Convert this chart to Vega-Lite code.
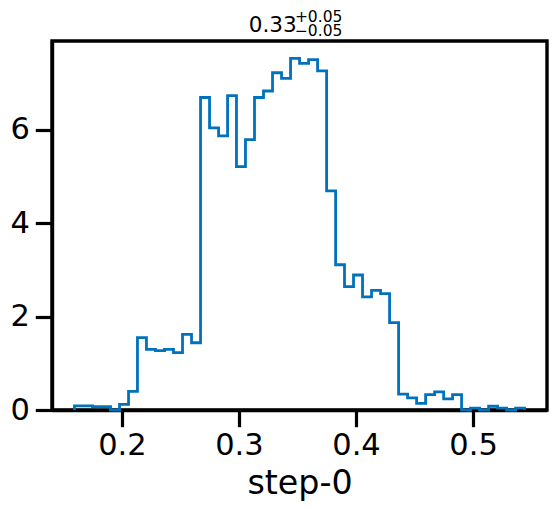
{
  "$schema": "https://vega.github.io/schema/vega-lite/v6.json",
  "autosize": {"type": "none"},
  "width": 495,
  "height": 369,
  "padding": {"left": 52, "top": 41, "right": 9, "bottom": 99},
  "background": "white",
  "config": {
    "view": {"stroke": "black", "strokeWidth": 3.4},
    "axis": {
      "grid": false,
      "domainColor": "black",
      "domainWidth": 3.4,
      "tickColor": "black",
      "tickWidth": 3.2,
      "tickSize": 16.7,
      "labelColor": "black",
      "labelFont": "DejaVu Sans",
      "labelFontSize": 30.5,
      "titleColor": "black",
      "titleFont": "DejaVu Sans",
      "titleFontSize": 33.3,
      "titleFontWeight": "normal",
      "zindex": 1
    }
  },
  "layer": [
    {
      "data": {
        "values": [
          {"k": 0, "x": 0.1595, "h": 0},
          {"k": 1, "x": 0.1595, "h": 0.09},
          {"k": 2, "x": 0.1672, "h": 0.09},
          {"k": 3, "x": 0.1749, "h": 0.07},
          {"k": 4, "x": 0.1826, "h": 0.07},
          {"k": 5, "x": 0.1903, "h": 0},
          {"k": 6, "x": 0.1980, "h": 0.12},
          {"k": 7, "x": 0.2057, "h": 0.40},
          {"k": 8, "x": 0.2133, "h": 1.55},
          {"k": 9, "x": 0.2210, "h": 1.30},
          {"k": 10, "x": 0.2287, "h": 1.27},
          {"k": 11, "x": 0.2364, "h": 1.30},
          {"k": 12, "x": 0.2441, "h": 1.23},
          {"k": 13, "x": 0.2518, "h": 1.62},
          {"k": 14, "x": 0.2595, "h": 1.44},
          {"k": 15, "x": 0.2672, "h": 6.69},
          {"k": 16, "x": 0.2749, "h": 6.04},
          {"k": 17, "x": 0.2826, "h": 5.87},
          {"k": 18, "x": 0.2903, "h": 6.73},
          {"k": 19, "x": 0.2979, "h": 5.21},
          {"k": 20, "x": 0.3056, "h": 5.79},
          {"k": 21, "x": 0.3133, "h": 6.69},
          {"k": 22, "x": 0.3210, "h": 6.83},
          {"k": 23, "x": 0.3287, "h": 7.22},
          {"k": 24, "x": 0.3364, "h": 7.10},
          {"k": 25, "x": 0.3441, "h": 7.53},
          {"k": 26, "x": 0.3518, "h": 7.42},
          {"k": 27, "x": 0.3595, "h": 7.50},
          {"k": 28, "x": 0.3672, "h": 7.26},
          {"k": 29, "x": 0.3749, "h": 4.69},
          {"k": 30, "x": 0.3826, "h": 3.11},
          {"k": 31, "x": 0.3902, "h": 2.64},
          {"k": 32, "x": 0.3979, "h": 2.89},
          {"k": 33, "x": 0.4056, "h": 2.42},
          {"k": 34, "x": 0.4133, "h": 2.56},
          {"k": 35, "x": 0.4210, "h": 2.49},
          {"k": 36, "x": 0.4287, "h": 1.87},
          {"k": 37, "x": 0.4364, "h": 0.34},
          {"k": 38, "x": 0.4441, "h": 0.26},
          {"k": 39, "x": 0.4518, "h": 0.14},
          {"k": 40, "x": 0.4595, "h": 0.33},
          {"k": 41, "x": 0.4672, "h": 0.39},
          {"k": 42, "x": 0.4749, "h": 0.24},
          {"k": 43, "x": 0.4825, "h": 0.33},
          {"k": 44, "x": 0.4902, "h": 0},
          {"k": 45, "x": 0.4979, "h": 0.04},
          {"k": 46, "x": 0.5056, "h": 0},
          {"k": 47, "x": 0.5133, "h": 0.08},
          {"k": 48, "x": 0.5210, "h": 0.04},
          {"k": 49, "x": 0.5287, "h": 0},
          {"k": 50, "x": 0.5364, "h": 0.04},
          {"k": 51, "x": 0.5440, "h": 0}
        ]
      },
      "mark": {"type": "line", "interpolate": "step-after", "color": "#0072BD", "strokeWidth": 2.8},
      "encoding": {
        "x": {
          "field": "x", "type": "quantitative",
          "scale": {"domain": [0.1403, 0.5632], "nice": false, "zero": false},
          "axis": {"values": [0.2, 0.3, 0.4, 0.5], "format": ".1f", "title": "step-0", "labelPadding": 4, "titlePadding": 6}
        },
        "y": {
          "field": "h", "type": "quantitative",
          "scale": {"domain": [0, 7.9], "nice": false},
          "axis": {"values": [0, 2, 4, 6], "format": "d", "title": null, "labelPadding": 6}
        },
        "order": {"field": "k", "type": "quantitative"}
      }
    },
    {
      "data": {"values": [{}]},
      "mark": {"type": "text", "text": "0.33", "font": "DejaVu Sans", "fontSize": 21.5, "align": "right", "baseline": "alphabetic", "color": "black"},
      "encoding": {
        "x": {"datum": 0.3493, "type": "quantitative"},
        "y": {"datum": 8.09, "type": "quantitative"}
      }
    },
    {
      "data": {"values": [{}]},
      "mark": {"type": "text", "text": "+0.05", "font": "DejaVu Sans", "fontSize": 15.5, "align": "left", "baseline": "alphabetic", "color": "black"},
      "encoding": {
        "x": {"datum": 0.3478, "type": "quantitative"},
        "y": {"datum": 8.31, "type": "quantitative"}
      }
    },
    {
      "data": {"values": [{}]},
      "mark": {"type": "text", "text": "−0.05", "font": "DejaVu Sans", "fontSize": 15.5, "align": "left", "baseline": "alphabetic", "color": "black"},
      "encoding": {
        "x": {"datum": 0.3478, "type": "quantitative"},
        "y": {"datum": 8.01, "type": "quantitative"}
      }
    }
  ]
}
